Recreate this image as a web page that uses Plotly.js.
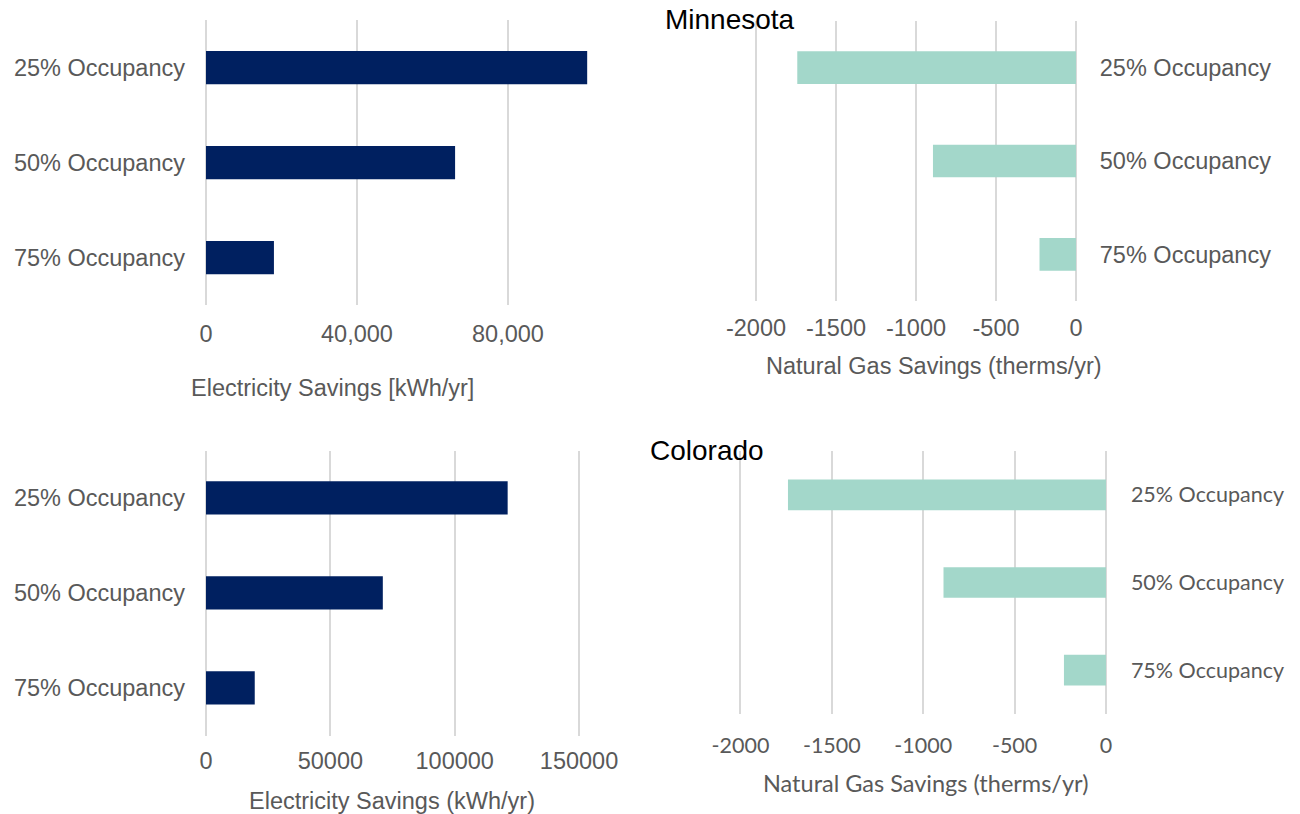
<!DOCTYPE html>
<html>
<head>
<meta charset="utf-8">
<script src="https://cdn.plot.ly/plotly-3.0.1.min.js"></script>
<style>html,body{margin:0;padding:0;background:#fff;}#chart{width:1300px;height:814px;}</style>
</head>
<body>
<div id="chart"></div>
<script>
// ---- data ----
const categories = ['25% Occupancy', '50% Occupancy', '75% Occupancy'];
const mnElectricity = [101000, 66000, 18000];   // kWh/yr
const mnGas = [-1742, -894, -228];              // therms/yr
const coElectricity = [121300, 71100, 19600];   // kWh/yr
const coGas = [-1740, -889, -230];              // therms/yr

const panelTitles = ['Minnesota', 'Colorado'];
const axisTitles = ['Electricity Savings [kWh/yr]', 'Natural Gas Savings (therms/yr)',
                    'Electricity Savings (kWh/yr)', 'Natural Gas Savings (therms/yr)'];
const elecTicksMN = [0, 40000, 80000];
const elecTickLabelsMN = ['0', '40,000', '80,000'];
const elecTicksCO = [0, 50000, 100000, 150000];
const elecTickLabelsCO = ['0', '50000', '100000', '150000'];
const gasTicks = [-2000, -1500, -1000, -500, 0];
const gasTickLabels = ['-2000', '-1500', '-1000', '-500', '0'];

// ---- style ----
const W = 1300, H = 814;
const NAVY = '#002060', TEAL = '#A3D7CA', GRID = '#D9D9D9', TXT = '#595959';
const ARIAL = 'Liberation Sans, Arial, sans-serif';
const CAL = 'Lato, Carlito, Calibri, sans-serif';
const px = v => v / W, py = v => 1 - v / H;

const traces = [
  {type: 'bar', orientation: 'h', x: mnElectricity, y: categories, xaxis: 'x', yaxis: 'y', marker: {color: NAVY}, hoverinfo: 'x+y'},
  {type: 'bar', orientation: 'h', x: mnGas, y: categories, xaxis: 'x2', yaxis: 'y2', marker: {color: TEAL}, hoverinfo: 'x+y'},
  {type: 'bar', orientation: 'h', x: coElectricity, y: categories, xaxis: 'x3', yaxis: 'y3', marker: {color: NAVY}, hoverinfo: 'x+y'},
  {type: 'bar', orientation: 'h', x: coGas, y: categories, xaxis: 'x4', yaxis: 'y4', marker: {color: TEAL}, hoverinfo: 'x+y'}
];

function xa(domain, range, tickvals, ticktext, anchor, font, standoff) {
  return {domain: domain, range: range, tickmode: 'array', tickvals: tickvals, ticktext: ticktext, anchor: anchor,
    showgrid: true, gridcolor: GRID, gridwidth: 2, zeroline: true, zerolinecolor: GRID, zerolinewidth: 2,
    showline: false, ticks: '', tickfont: {family: font.family, size: font.size, color: TXT},
    ticklabelstandoff: standoff, fixedrange: true};
}
function ya(domain, anchor, side, font, standoff) {
  return {domain: domain, anchor: anchor, side: side, type: 'category', autorange: 'reversed',
    showgrid: false, zeroline: false, showline: false, ticks: '',
    tickfont: {family: font.family, size: font.size, color: TXT}, ticklabelstandoff: standoff, fixedrange: true};
}

const fA = {family: ARIAL, size: 23.5};
const fC = {family: CAL, size: 21.5};

const layout = {
  width: W, height: H, margin: {l: 0, r: 0, t: 0, b: 0}, showlegend: false,
  paper_bgcolor: '#fff', plot_bgcolor: 'rgba(0,0,0,0)', bargap: 0.65,
  xaxis:  xa([px(206), px(628.7)], [0, 112000], elecTicksMN, elecTickLabelsMN, 'y', fA, 12),
  yaxis:  ya([py(305), py(20)], 'x', 'left', fA, 20),
  xaxis2: xa([px(740), px(1076.8)], [-2100, 5], gasTicks, gasTickLabels, 'y2', fA, 10),
  yaxis2: ya([py(301), py(21)], 'x2', 'right', fA, 22),
  xaxis3: xa([px(206), px(604.9)], [0, 160400], elecTicksCO, elecTickLabelsCO, 'y3', fA, 9),
  yaxis3: ya([py(735.5), py(450.5)], 'x3', 'left', fA, 20),
  xaxis4: xa([px(724), px(1106.9)], [-2090, 5], gasTicks, gasTickLabels, 'y4', fC, 16),
  yaxis4: ya([py(714), py(451)], 'x4', 'right', fC, 23),
  annotations: [
    {text: panelTitles[0], x: px(730), y: py(20), xref: 'paper', yref: 'paper', showarrow: false, xanchor: 'center', yanchor: 'middle', font: {family: ARIAL, size: 28, color: '#000'}},
    {text: panelTitles[1], x: px(707), y: py(450), xref: 'paper', yref: 'paper', showarrow: false, xanchor: 'center', yanchor: 'middle', font: {family: ARIAL, size: 28, color: '#000'}},
    {text: axisTitles[0], x: px(332), y: py(388), xref: 'paper', yref: 'paper', showarrow: false, xanchor: 'center', yanchor: 'middle', font: {family: ARIAL, size: 23.5, color: TXT}},
    {text: axisTitles[1], x: px(934), y: py(366), xref: 'paper', yref: 'paper', showarrow: false, xanchor: 'center', yanchor: 'middle', font: {family: ARIAL, size: 23.5, color: TXT}},
    {text: axisTitles[2], x: px(392), y: py(801), xref: 'paper', yref: 'paper', showarrow: false, xanchor: 'center', yanchor: 'middle', font: {family: ARIAL, size: 23.5, color: TXT}},
    {text: axisTitles[3], x: px(925), y: py(783), xref: 'paper', yref: 'paper', showarrow: false, xanchor: 'center', yanchor: 'middle', font: {family: CAL, size: 23.5, color: TXT}}
  ]
};

Plotly.newPlot('chart', traces, layout, {displayModeBar: false, staticPlot: true});
</script>
</body>
</html>
